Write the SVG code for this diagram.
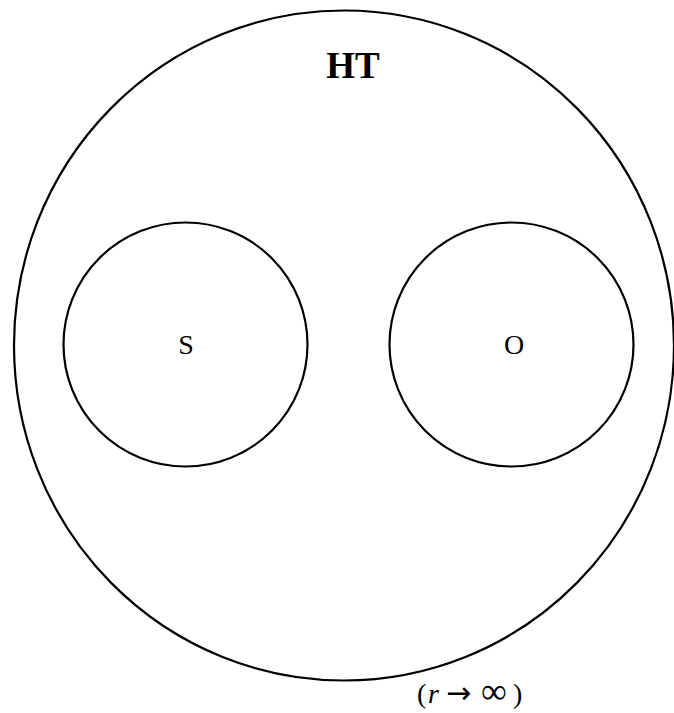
<svg xmlns="http://www.w3.org/2000/svg" width="674" height="713" viewBox="0 0 674 713">
<style>
.c{fill:none;stroke:#000;stroke-width:2.2}
.t{font-family:"Liberation Serif","DejaVu Serif",serif;fill:#000}
</style>
<rect width="674" height="713" fill="#fff"/>
<g id="HT">
<ellipse class="c" cx="344" cy="345.5" rx="330" ry="335"/>
<text class="t" x="353" y="78" font-size="37" font-weight="bold" text-anchor="middle">HT</text>
</g>
<g id="S">
<circle class="c" cx="185.5" cy="344.5" r="122"/>
<text class="t" x="186" y="354" font-size="28" text-anchor="middle">S</text>
</g>
<g id="O">
<circle class="c" cx="511.5" cy="344.5" r="122"/>
<text class="t" x="514" y="354" font-size="28" text-anchor="middle">O</text>
</g>
<g id="label">
<text class="t" y="703" font-size="28"><tspan x="417">(</tspan><tspan x="428" font-style="italic">r</tspan><tspan x="446" font-family="DejaVu Sans, sans-serif" font-size="30">→</tspan><tspan x="481" font-size="36">∞</tspan><tspan x="513">)</tspan></text>
</g>
<g id="connectors"/>
</svg>
